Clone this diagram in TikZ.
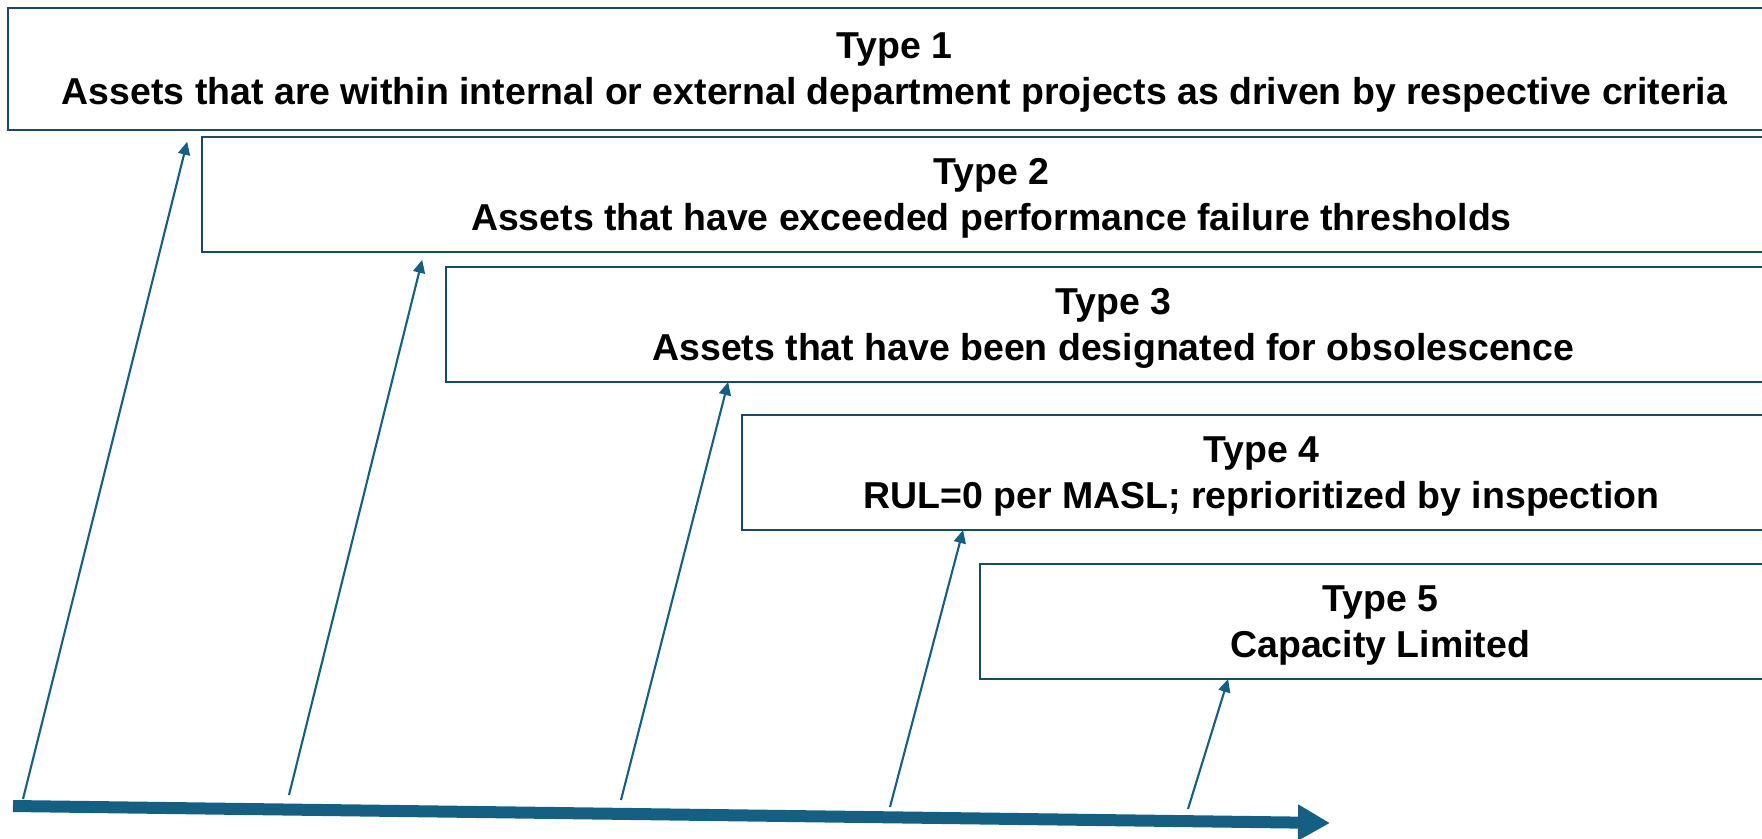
\documentclass[tikz,border=0pt]{standalone}
\usepackage{fontspec}
\setmainfont{Liberation Sans}
\usetikzlibrary{arrows.meta}
\definecolor{mnavy}{RGB}{22,74,101}
\definecolor{mteal}{RGB}{21,96,130}

\begin{document}
\begin{tikzpicture}[x=0.01cm, y=-0.01cm, font=\fontsize{10.65}{13.1}\selectfont\bfseries]
  \tikzset{type box/.style={draw=mnavy, line width=0.8pt, fill=white, anchor=north west, outer sep=0pt, inner sep=0pt, align=center, text depth=0pt, minimum height=#1},
           type box/.default=1.15cm,
           feed/.style={draw=mteal, line width=0.6pt, -{Triangle[length=0.13cm,width=0.12cm]}},
           timeline/.style={draw=mteal, line width=0.12cm, -{Triangle[length=0.32cm,width=0.34cm]}}}
  \useasboundingbox (0,0) rectangle (1762,838);
  \clip (0,0) rectangle (1762,838);

  \node [type box=1.22cm, minimum width=17.72cm] (type1) at (8,8) {Type 1\\Assets that are within internal or external department projects as driven by respective criteria};
  \node [type box, minimum width=15.78cm] (type2) at (202,137) {Type 2\\Assets that have exceeded performance failure thresholds};
  \node [type box, minimum width=13.34cm] (type3) at (446,267) {Type 3\\Assets that have been designated for obsolescence};
  \node [type box, minimum width=10.38cm] (type4) at (742,415) {Type 4\\RUL=0 per MASL; reprioritized by inspection};
  \node [type box, minimum width=8.0cm] (type5) at (980,564) {Type 5\\Capacity Limited};

  % time axis
  \coordinate (start) at (13,806);
  \coordinate (finish) at (1330,823);
  \draw [timeline] (start) -- (finish);

  % feeders from the axis up to each box
  \coordinate (t1) at (23,799);
  \coordinate (t2) at (289,795);
  \coordinate (t3) at (621,800);
  \coordinate (t4) at (890,807);
  \coordinate (t5) at (1188,809);
  \draw [feed, shorten >=0.12cm] (t1) -- ([xshift=1.82cm]type1.south west);
  \draw [feed, shorten >=0.08cm] (t2) -- ([xshift=2.22cm]type2.south west);
  \draw [feed] (t3) -- ([xshift=2.82cm]type3.south west);
  \draw [feed] (t4) -- ([xshift=2.21cm]type4.south west);
  \draw [feed] (t5) -- ([xshift=2.48cm]type5.south west);
\end{tikzpicture}
\end{document}
